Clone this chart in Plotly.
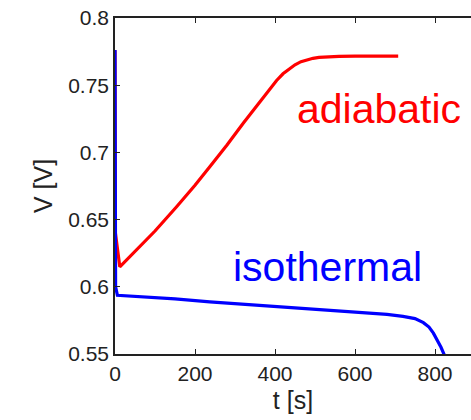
import plotly.graph_objects as go

# Cell voltage during discharge: adiabatic vs isothermal conditions
t_adiabatic = [0, 1, 12, 50, 100, 154, 200, 237, 280, 321, 350, 371, 390, 404, 420, 435,
               450, 465, 480, 495, 510, 530, 560, 600, 650, 708]
v_adiabatic = [0.776, 0.640, 0.6149, 0.6265, 0.6415, 0.6596, 0.6755, 0.6894, 0.7055, 0.7219,
               0.7330, 0.7414, 0.7485, 0.7535, 0.7585, 0.7622, 0.7652, 0.7675, 0.7690, 0.7700,
               0.7707, 0.7712, 0.7715, 0.7716, 0.7717, 0.7717]

t_isothermal = [0, 1.5, 6, 40, 100, 150, 237, 320, 404, 490, 571, 630, 680, 720, 750, 771,
                785, 796, 806, 815, 823]
v_isothermal = [0.7762, 0.600, 0.5937, 0.5932, 0.5921, 0.5910, 0.5888, 0.5871, 0.5855, 0.5838,
                0.5821, 0.5808, 0.5795, 0.5780, 0.5763, 0.5733, 0.5700, 0.5655, 0.5605,
                0.5550, 0.5495]

x_ticks = [0, 200, 400, 600, 800]
y_ticks = [0.55, 0.6, 0.65, 0.7, 0.75, 0.8]
y_tick_text = ["0.55", "0.6", "0.65", "0.7", "0.75", "0.8"]

FONT = "Liberation Sans, Arial, sans-serif"

fig = go.Figure()
fig.add_trace(go.Scatter(x=t_adiabatic, y=v_adiabatic, mode="lines",
                         line=dict(color="#ff0000", width=3.2),
                         showlegend=False))
fig.add_trace(go.Scatter(x=t_isothermal, y=v_isothermal, mode="lines",
                         line=dict(color="#0000ff", width=3.2),
                         showlegend=False))

fig.add_annotation(x=659, y=0.7323, text="adiabatic", showarrow=False,
                   xanchor="center", yanchor="middle",
                   font=dict(family=FONT, size=41, color="#ff0000"))
fig.add_annotation(x=532, y=0.6147, text="isothermal", showarrow=False,
                   xanchor="center", yanchor="middle",
                   font=dict(family=FONT, size=41, color="#0000ff"))

fig.update_layout(
    width=471, height=420,
    margin=dict(l=115, r=0, t=18, b=66),
    paper_bgcolor="white", plot_bgcolor="white",
    font=dict(family=FONT, size=21, color="#222222"),
    xaxis=dict(range=[0, 890], tickvals=x_ticks, ticks="inside", ticklen=5, tickwidth=1,
               tickcolor="#222222", showline=True, linecolor="#222222", linewidth=1.5,
               mirror="ticks", showgrid=False, zeroline=False,
               title=dict(text="t [s]", standoff=8)),
    yaxis=dict(range=[0.55, 0.8], tickvals=y_ticks, ticktext=y_tick_text, ticks="inside",
               ticklen=5, tickwidth=1, tickcolor="#222222", showline=True,
               linecolor="#222222", linewidth=1.5, showgrid=False, zeroline=False,
               title=dict(text="V [V]", standoff=8)),
)

fig.write_html("out.html")
